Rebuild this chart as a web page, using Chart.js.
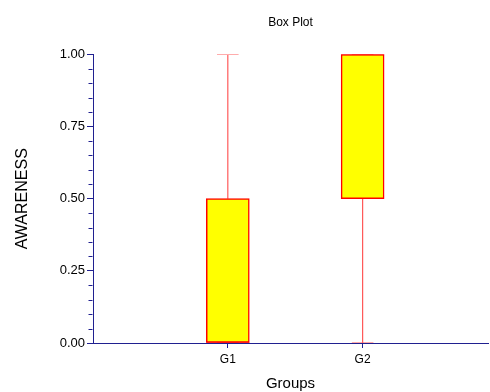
<!DOCTYPE html>
<html>
<head>
<meta charset="utf-8">
<script src="https://cdn.jsdelivr.net/npm/chart.js@4"></script>
<style>
  html, body { margin: 0; padding: 0; background: #ffffff; }
  #c { display: block; }
</style>
</head>
<body>
<canvas id="c" width="490" height="392"></canvas>
<script>
// ---- data ----
const groups = ['G1', 'G2'];
const groupPositions = [1, 2];
const minVals = [0, 0];
const q1Vals = [0, 0.5];
const medianVals = [0, 1];
const q3Vals = [0.5, 1];
const maxVals = [1, 1];
const yMajorTicks = [0, 0.25, 0.5, 0.75, 1];
const yMinorTicks = [0.05, 0.1, 0.15, 0.2, 0.3, 0.35, 0.4, 0.45, 0.55, 0.6, 0.65, 0.7, 0.8, 0.85, 0.9, 0.95];

// ---- styles ----
const AXIS = '#202090';
const FONT = "'Liberation Sans', Arial, sans-serif";
const capHalf = 0.08;   // whisker cap half width (x units)
const boxHalf = 0.16;   // median line half width (x units)

const boxData = groups.map((g, i) => ({ x: groupPositions[i], y: [q1Vals[i], q3Vals[i]] }));

const whiskerData = [];
groups.forEach((g, i) => {
  const x = groupPositions[i];
  whiskerData.push({ x: x, y: q3Vals[i] }, { x: x, y: maxVals[i] }, { x: x, y: null });
  whiskerData.push({ x: x - capHalf, y: maxVals[i] }, { x: x + capHalf, y: maxVals[i] }, { x: x, y: null });
  whiskerData.push({ x: x, y: minVals[i] }, { x: x, y: q1Vals[i] }, { x: x, y: null });
  whiskerData.push({ x: x - capHalf, y: minVals[i] }, { x: x + capHalf, y: minVals[i] }, { x: x, y: null });
});

const medianData = [];
groups.forEach((g, i) => {
  const x = groupPositions[i];
  medianData.push({ x: x - boxHalf, y: medianVals[i] }, { x: x + boxHalf, y: medianVals[i] }, { x: x, y: null });
});

const isMajor = v => yMajorTicks.some(t => Math.abs(t - v) < 1e-9);

const minorTickPlugin = {
  id: 'minorTicks',
  afterDraw(chart) {
    const y = chart.scales.y;
    const ctx = chart.ctx;
    ctx.save();
    ctx.strokeStyle = AXIS;
    ctx.lineWidth = 1;
    const x0 = Math.round(y.right) - 0.5;
    yMinorTicks.forEach(v => {
      const py = Math.round(y.getPixelForValue(v)) + 0.5;
      ctx.beginPath();
      ctx.moveTo(x0 - 4, py);
      ctx.lineTo(x0, py);
      ctx.stroke();
    });
    ctx.restore();
  }
};

new Chart(document.getElementById('c'), {
  type: 'bar',
  data: {
    datasets: [
      {
        type: 'line',
        data: medianData,
        borderColor: '#ff0000',
        borderWidth: 1.5,
        pointRadius: 0,
        spanGaps: false,
        order: 0
      },
      {
        type: 'bar',
        data: boxData,
        backgroundColor: '#ffff00',
        borderColor: '#ff0000',
        borderWidth: 1.5,
        borderSkipped: false,
        barThickness: 43,
        order: 1
      },
      {
        type: 'line',
        data: whiskerData,
        borderColor: '#ff5a5a',
        borderWidth: 1.2,
        pointRadius: 0,
        spanGaps: false,
        order: 2
      }
    ]
  },
  options: {
    responsive: false,
    animation: false,
    layout: { padding: { left: 0, right: 2, top: 0, bottom: 0 } },
    plugins: {
      legend: { display: false },
      tooltip: { enabled: false },
      title: {
        display: true,
        text: 'Box Plot',
        fullSize: false,
        color: '#000000',
        font: { family: FONT, size: 12, weight: 'normal' },
        padding: { top: 15, bottom: 25 }
      }
    },
    scales: {
      x: {
        type: 'linear',
        offset: false,
        min: 0,
        max: 2.93,
        afterBuildTicks(scale) {
          scale.ticks = groupPositions.map(v => ({ value: v }));
        },
        afterFit(scale) { scale.height = 49; },
        ticks: {
          color: '#000000',
          font: { family: FONT, size: 12 },
          padding: 4,
          maxRotation: 0,
          callback: (v) => {
            const i = groupPositions.indexOf(v);
            return i >= 0 ? groups[i] : '';
          }
        },
        grid: {
          display: true,
          offset: false,
          drawOnChartArea: false,
          tickLength: 5,
          tickColor: AXIS
        },
        border: { display: true, color: AXIS, width: 1 },
        title: {
          display: true,
          text: 'Groups',
          color: '#000000',
          font: { family: FONT, size: 15 },
          padding: { top: 0, bottom: -1 }
        }
      },
      y: {
        type: 'linear',
        min: 0,
        max: 1,
        afterBuildTicks(scale) {
          scale.ticks = yMajorTicks.map(v => ({ value: v }));
        },
        afterFit(scale) { scale.width = 93; },
        ticks: {
          color: '#000000',
          font: { family: FONT, size: 13 },
          padding: 2,
          callback: (v) => isMajor(v) ? Number(v).toFixed(2) : ''
        },
        grid: {
          display: true,
          drawOnChartArea: false,
          tickLength: 6,
          tickColor: AXIS
        },
        border: { display: true, color: AXIS, width: 1 },
        title: {
          display: true,
          text: 'AWARENESS',
          color: '#000000',
          font: { family: FONT, size: 16 },
          padding: { top: 13, bottom: 0 }
        }
      }
    }
  },
  plugins: [minorTickPlugin]
});
</script>
</body>
</html>
